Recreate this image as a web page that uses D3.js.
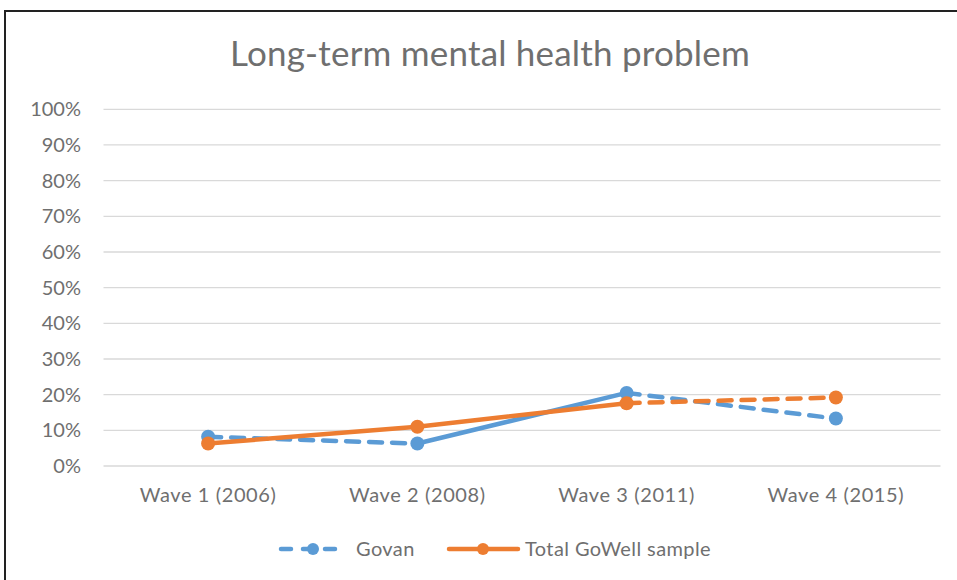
<!DOCTYPE html>
<html>
<head>
<meta charset="utf-8">
<script src="https://cdn.jsdelivr.net/npm/d3@7"></script>
<style>
  body { margin: 0; background: #fff; }
  svg { display: block; }
</style>
</head>
<body>
<svg></svg>
<script>
// chart values
var waves = ["Wave 1 (2006)", "Wave 2 (2008)", "Wave 3 (2011)", "Wave 4 (2015)"];
var govan = [0.082, 0.063, 0.205, 0.133];
var total = [0.063, 0.110, 0.176, 0.192];
var yTicks = [0, 0.1, 0.2, 0.3, 0.4, 0.5, 0.6, 0.7, 0.8, 0.9, 1];

draw();

function draw(){
  var width = 957, height = 580;
  var font = "Lato, 'Open Sans', sans-serif";
  var grey = "#6f6f6f";

  var svg = d3.select("svg")
              .attr("width", width)
              .attr("height", height);

  // outer frame
  svg.append("rect")
     .attr("x", 5).attr("y", 11)
     .attr("width", width).attr("height", height)
     .attr("fill", "none")
     .attr("stroke", "#222")
     .attr("stroke-width", 2);

  svg.append("text")
     .attr("x", 490).attr("y", 66)
     .attr("text-anchor", "middle")
     .attr("font-family", font)
     .attr("font-size", 35)
     .attr("letter-spacing", 0.2)
     .attr("fill", grey)
     .text("Long-term mental health problem");

  var x = d3.scaleBand().domain(waves).range([103.5, 940.5]);
  var y = d3.scaleLinear().domain([0, 1]).range([466, 109.3]);

  // gridlines
  svg.append("g")
     .selectAll("line")
     .data(yTicks)
     .enter()
     .append("line")
     .attr("x1", 103.5).attr("x2", 940.5)
     .attr("y1", function(d){ return y(d); })
     .attr("y2", function(d){ return y(d); })
     .attr("stroke", "#d9d9d9")
     .attr("stroke-width", 1.3);

  var yAxis = svg.append("g")
     .attr("transform", "translate(81,0)")
     .call(d3.axisLeft(y).tickValues(yTicks).tickFormat(d3.format(".0%")).tickSize(0).tickPadding(0));
  yAxis.select(".domain").remove();
  yAxis.selectAll("text")
       .attr("font-family", font)
       .attr("font-size", 20)
       .attr("fill", grey);

  var xAxis = svg.append("g")
     .attr("transform", "translate(0,466)")
     .call(d3.axisBottom(x).tickSize(0).tickPadding(22));
  xAxis.select(".domain").remove();
  xAxis.selectAll("text")
       .attr("font-family", font)
       .attr("font-size", 20)
       .attr("letter-spacing", 0.6)
       .attr("fill", grey);

  var cx = function(i){ return x(waves[i]) + x.bandwidth()/2; };

  var series = [
    {name: "Govan", values: govan, color: "#5b9bd5", dashed: [true, false, true]},
    {name: "Total GoWell sample", values: total, color: "#ed7d31", dashed: [false, false, true]}
  ];

  series.forEach(function(s){
    var g = svg.append("g");
    var segs = d3.range(s.values.length - 1);
    g.selectAll("line")
     .data(segs)
     .enter()
     .append("line")
     .attr("x1", function(i){ return cx(i); })
     .attr("y1", function(i){ return y(s.values[i]); })
     .attr("x2", function(i){ return cx(i+1); })
     .attr("y2", function(i){ return y(s.values[i+1]); })
     .attr("stroke", s.color)
     .attr("stroke-width", 4.5)
     .attr("stroke-linecap", "round")
     .attr("stroke-dasharray", function(i){ return s.dashed[i] ? "13,10" : null; });
    g.selectAll("circle")
     .data(s.values)
     .enter()
     .append("circle")
     .attr("cx", function(d, i){ return cx(i); })
     .attr("cy", function(d){ return y(d); })
     .attr("r", 7)
     .attr("fill", s.color);
  });

  // legend
  var legend = [
    {name: "Govan", color: "#5b9bd5", dash: "10,12", x1: 281, x2: 339, mx: 313, tx: 356},
    {name: "Total GoWell sample", color: "#ed7d31", dash: null, x1: 449, x2: 518, mx: 483, tx: 525}
  ];
  legend.forEach(function(l){
    var g = svg.append("g");
    g.append("line")
     .attr("x1", l.x1).attr("x2", l.x2)
     .attr("y1", 549).attr("y2", 549)
     .attr("stroke", l.color)
     .attr("stroke-width", 4.5)
     .attr("stroke-linecap", "round")
     .attr("stroke-dasharray", l.dash);
    g.append("circle")
     .attr("cx", l.mx).attr("cy", 549)
     .attr("r", 6).attr("fill", l.color);
    g.append("text")
     .attr("x", l.tx).attr("y", 556)
     .attr("font-family", font)
     .attr("font-size", 20)
     .attr("letter-spacing", 0.4)
     .attr("fill", grey)
     .text(l.name);
  });
}
</script>
</body>
</html>
